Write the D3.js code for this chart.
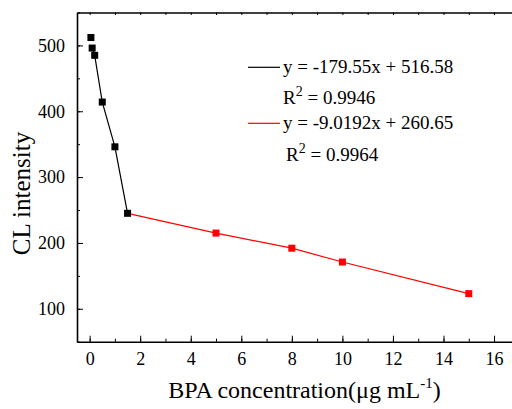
<!DOCTYPE html>
<html>
<head>
<meta charset="utf-8">
<script src="https://cdn.jsdelivr.net/npm/d3@7"></script>
<style>
  body { margin: 0; background: #fff; }
  svg { font-family: "Liberation Serif", "Times New Roman", serif; }
  .axis path, .axis line { stroke: #000; }
</style>
</head>
<body>
<div id="chart"></div>
<script>
// low concentration range (black) and high range (red)
var lowConc = [0.05, 0.1, 0.2, 0.5, 1, 1.5]
var lowCL = [512, 496, 485, 414, 346, 245]
var highConc = [5, 8, 10, 15]
var highCL = [215, 192, 171, 123]

var xTicks = [0, 2, 4, 6, 8, 10, 12, 14, 16]
var yTicks = [100, 200, 300, 400, 500]

var fits = [
  {eq: "y = -179.55x + 516.58", r2: "0.9946", color: "#000"},
  {eq: "y = -9.0192x + 260.65", r2: "0.9964", color: "#ff0000"}
]

var width = 512, height = 409
var margin = {top: 12.5, left: 77, bottom: 67.3}

var svg = d3.select("#chart").append("svg")
    .attr("width", width)
    .attr("height", height)

var x = d3.scaleLinear()
    .domain([-0.5, 17.5])
    .range([margin.left, margin.left + 18 * 25.275])

var y = d3.scaleLinear()
    .domain([50, 550])
    .range([height - margin.bottom, margin.top])

var xMinor = d3.range(0, 18, 1)
var yMinor = d3.range(50, 551, 50)

function serif(g) {
  g.selectAll("text")
    .style("font-family", "'Liberation Serif', 'Times New Roman', serif")
    .style("font-size", "18px")
    .attr("fill", "#000")
}

// bottom axis, inward ticks
svg.append("g")
    .attr("class", "axis")
    .attr("transform", "translate(0," + y(50) + ")")
    .call(d3.axisBottom(x).tickValues(xMinor).tickSize(-3).tickFormat(""))
    .call(g => g.select(".domain").remove())
svg.append("g")
    .attr("class", "axis")
    .attr("transform", "translate(0," + y(50) + ")")
    .call(d3.axisBottom(x).tickValues(xTicks).tickSizeInner(-6).tickSizeOuter(0).tickPadding(11))
    .call(serif)
    .call(g => g.select(".domain").attr("stroke-width", 1.6))

// top mirror axis
svg.append("g")
    .attr("class", "axis")
    .attr("transform", "translate(0," + y(550) + ")")
    .call(d3.axisTop(x).tickValues(xMinor).tickSizeInner(-2.5).tickSizeOuter(0).tickFormat(""))
    .call(g => g.select(".domain").attr("stroke-width", 1.6))
    .call(g => g.selectAll(".tick line").attr("stroke", "#888"))

// left axis
svg.append("g")
    .attr("class", "axis")
    .attr("transform", "translate(" + x(-0.5) + ",0)")
    .call(d3.axisLeft(y).tickValues(yMinor).tickSize(-3).tickFormat(""))
    .call(g => g.select(".domain").remove())
svg.append("g")
    .attr("class", "axis")
    .attr("transform", "translate(" + x(-0.5) + ",0)")
    .call(d3.axisLeft(y).tickValues(yTicks).tickSizeInner(-6).tickSizeOuter(0).tickPadding(12))
    .call(serif)
    .call(g => g.select(".domain").attr("stroke-width", 1.6))

var line = d3.line()
    .x(d => x(d[0]))
    .y(d => y(d[1]))

var lowPts = lowConc.map((c, i) => [c, lowCL[i]])
var highPts = highConc.map((c, i) => [c, highCL[i]])

svg.append("path")
    .datum(lowPts.slice(1))
    .attr("d", line)
    .attr("fill", "none")
    .attr("stroke", "#000")
    .attr("stroke-width", 1.2)

svg.append("path")
    .datum([lowPts[lowPts.length - 1]].concat(highPts))
    .attr("d", line)
    .attr("fill", "none")
    .attr("stroke", "#ff0000")
    .attr("stroke-width", 1.2)

var s = 7
svg.append("g").selectAll("rect")
    .data(highPts)
  .enter().append("rect")
    .attr("x", d => x(d[0]) - s / 2)
    .attr("y", d => y(d[1]) - s / 2)
    .attr("width", s)
    .attr("height", s)
    .attr("fill", "#ff0000")

svg.append("g").selectAll("rect")
    .data(lowPts)
  .enter().append("rect")
    .attr("x", d => x(d[0]) - s / 2)
    .attr("y", d => y(d[1]) - s / 2)
    .attr("width", s)
    .attr("height", s)
    .attr("fill", "#000")

// legend with fit equations
var leg = svg.append("g")
fits.forEach(function(f, i) {
  var base = 73.3 + i * 56
  leg.append("line")
      .attr("x1", 248).attr("x2", 280)
      .attr("y1", base - 6).attr("y2", base - 6)
      .attr("stroke", f.color)
      .attr("stroke-width", 1.2)
  leg.append("text")
      .attr("x", 283)
      .attr("y", base)
      .attr("font-size", 19)
      .text(f.eq)
  var r = leg.append("text")
      .attr("x", 283 + i * 3)
      .attr("y", base + 31 + i * 0.5)
      .attr("font-size", 19)
  r.append("tspan").text("R")
  r.append("tspan").attr("dy", -8).attr("font-size", 14).text("2")
  r.append("tspan").attr("dy", 8).text(" = " + f.r2)
})

// axis titles
svg.append("text")
    .attr("transform", "translate(30,193.5) rotate(-90)")
    .attr("text-anchor", "middle")
    .attr("font-size", 25)
    .text("CL intensity")

var xt = svg.append("text")
    .attr("x", 304.5)
    .attr("y", 398)
    .attr("text-anchor", "middle")
    .attr("font-size", 24)
xt.append("tspan").text("BPA concentration(\u03bcg mL")
xt.append("tspan").attr("dy", -10).attr("font-size", 15).text("-1")
xt.append("tspan").attr("dy", 10).text(")")
</script>
</body>
</html>
